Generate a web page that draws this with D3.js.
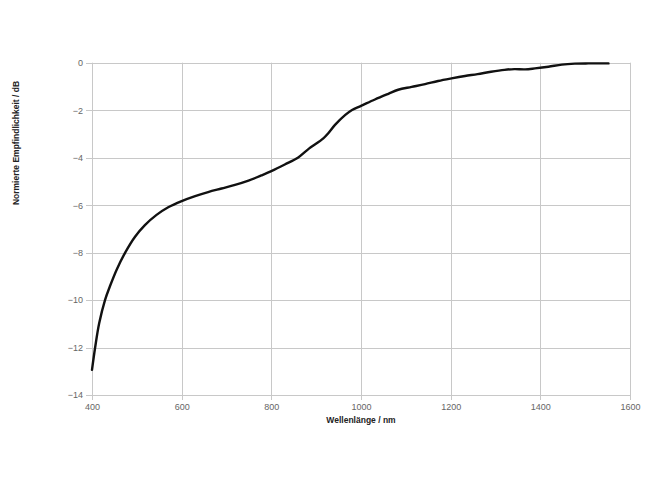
<!DOCTYPE html>
<html>
<head>
<meta charset="utf-8">
<script src="https://cdn.jsdelivr.net/npm/d3@7/dist/d3.min.js"></script>
<style>
  html, body { margin: 0; padding: 0; background: #fff; }
  svg { display: block; }
</style>
</head>
<body>
<svg id="chart" width="650" height="487"></svg>
<script>
// Wavelength (nm)
const wavelength = [400, 407, 416, 429, 440, 455, 474, 496, 518, 544, 570, 600, 630, 659, 689, 719, 749, 778, 800, 830, 860, 882, 916, 927, 942, 965, 980, 1000, 1031, 1061, 1083, 1113, 1143, 1172, 1202, 1232, 1260, 1290, 1320, 1342, 1366, 1388, 1418, 1448, 1477, 1507, 1552];
// Normalized sensitivity (dB)
const sensitivity = [-12.94, -12.0, -10.98, -10.0, -9.42, -8.72, -8.0, -7.33, -6.84, -6.41, -6.09, -5.83, -5.62, -5.45, -5.3, -5.15, -4.97, -4.75, -4.57, -4.29, -3.99, -3.65, -3.19, -2.97, -2.62, -2.2, -1.99, -1.82, -1.55, -1.31, -1.14, -1.02, -0.9, -0.77, -0.66, -0.56, -0.48, -0.38, -0.3, -0.27, -0.28, -0.24, -0.17, -0.08, -0.04, -0.03, -0.03];
const xTicks = [400, 600, 800, 1000, 1200, 1400, 1600];
const yTicks = [0, -2, -4, -6, -8, -10, -12, -14];
const xTitle = "Wellenlänge / nm";
const yTitle = "Normierte Empfindlichkeit / dB";

(function () {
const svg = d3.select("#chart");
const mLeft = 92, mRight = 630, mTop = 62.7, mBottom = 395;
const x = d3.scaleLinear().domain([400, 1600]).range([mLeft, mRight]);
const y = d3.scaleLinear().domain([-14, 0]).range([mBottom, mTop]);
const grid = "#c8c8c8";
const font = "'Liberation Sans', Arial, sans-serif";

// gridlines
svg.append("g").selectAll("line").data(yTicks).join("line")
  .attr("x1", mLeft - 6).attr("x2", mRight)
  .attr("y1", d => Math.round(y(d)) + 0.5).attr("y2", d => Math.round(y(d)) + 0.5)
  .attr("stroke", grid).attr("stroke-width", 1);
svg.append("g").selectAll("line").data(xTicks).join("line")
  .attr("x1", d => Math.round(x(d)) + 0.5).attr("x2", d => Math.round(x(d)) + 0.5)
  .attr("y1", mTop).attr("y2", mBottom + 5)
  .attr("stroke", grid).attr("stroke-width", 1);

// y axis labels
const yAxis = d3.axisLeft(y).tickValues(yTicks).tickSize(0).tickPadding(9).tickFormat(d3.format("d"));
const gy = svg.append("g").attr("transform", `translate(${mLeft},0)`).call(yAxis);
gy.select(".domain").remove();
gy.selectAll("text").attr("fill", "#666").style("font-family", font).style("font-size", "9px");

// x axis labels
const xAxis = d3.axisBottom(x).tickValues(xTicks).tickSize(0).tickPadding(9).tickFormat(d3.format("d"));
const gx = svg.append("g").attr("transform", `translate(0,${mBottom})`).call(xAxis);
gx.select(".domain").remove();
gx.selectAll("text").attr("fill", "#666").style("font-family", font).style("font-size", "9px");

// curve
const data = wavelength.map((w, i) => [w, sensitivity[i]]);
const line = d3.line().x(d => x(d[0])).y(d => y(d[1])).curve(d3.curveCatmullRom.alpha(0.5));
svg.append("path").datum(data).attr("d", line)
  .attr("fill", "none").attr("stroke", "#111").attr("stroke-width", 2.4)
  .attr("stroke-linejoin", "round").attr("stroke-linecap", "round");

// titles
svg.append("text").attr("x", 361).attr("y", 423).attr("text-anchor", "middle")
  .style("font-family", font).style("font-size", "8.5px").style("font-weight", "bold")
  .attr("fill", "#222").text(xTitle);
svg.append("text").attr("transform", "translate(19,143) rotate(-90)").attr("text-anchor", "middle")
  .style("font-family", font).style("font-size", "8.5px").style("font-weight", "bold")
  .attr("fill", "#222").text(yTitle);
})();
</script>
</body>
</html>
